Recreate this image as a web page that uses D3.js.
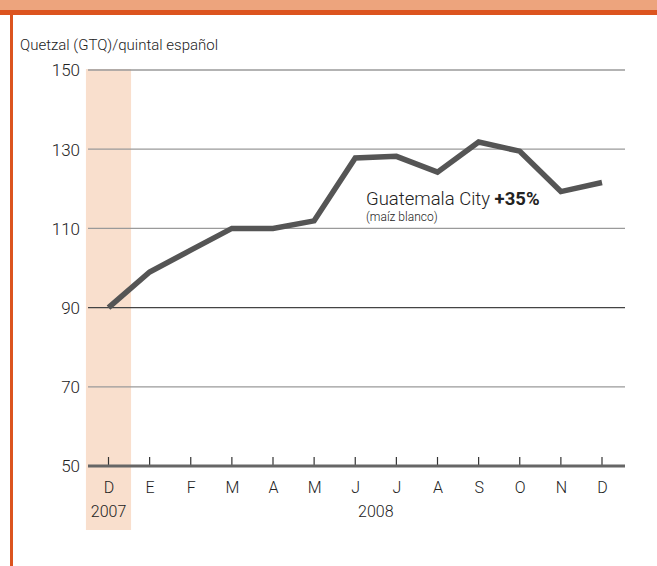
<!DOCTYPE html>
<html lang="es">
<head>
<meta charset="UTF-8">
<title>Guatemala City maíz blanco</title>
<style>
    body { margin: 0; background: #fff; }
    svg { display: block; font-family: Roboto, "Noto Sans", sans-serif; font-weight: 300; }
    .tick text { fill: #222; }
</style>
</head>
<body>
<svg id="chart" width="657" height="566"></svg>
<script src="https://cdnjs.cloudflare.com/ajax/libs/d3/7.8.5/d3.min.js"></script>
<script>
    // month labels (Dec 2007 .. Dec 2008)
    const months = ['D', 'E', 'F', 'M', 'A', 'M', 'J', 'J', 'A', 'S', 'O', 'N', 'D'];
    const prices = [90, 99, 104.5, 110, 110, 111.9, 127.8, 128.2, 124.2, 131.8, 129.5, 119.3, 121.6];
    const yTicks = [50, 70, 90, 110, 130, 150];
    const years = [{ label: '2007', from: 0, to: 0 }, { label: '2008', from: 1, to: 12 }];

    const svg = d3.select('#chart');
    const W = 657, H = 566;

    // frame: top band + left rule
    svg.append('rect').attr('x', 0).attr('y', 0).attr('width', W).attr('height', 11).attr('fill', '#eda47d');
    svg.append('rect').attr('x', 0).attr('y', 10).attr('width', W).attr('height', 5).attr('fill', '#dc541f');
    svg.append('rect').attr('x', 10).attr('y', 10).attr('width', 3).attr('height', H - 10).attr('fill', '#dc541f');

    svg.append('text')
        .attr('x', 20).attr('y', 50)
        .attr('font-size', 15).attr('fill', '#222')
        .text('Quetzal (GTQ)/quintal español');

    const left = 88, right = 625;
    const x = d3.scalePoint().domain(d3.range(months.length)).range([108.5, 602]);
    const y = d3.scaleLinear().domain([50, 150]).range([466, 70]);

    // highlighted Dec 2007 column
    const step = x.step();
    svg.append('rect')
        .attr('x', x(0) - step / 2 - 2).attr('y', y(150) - 1)
        .attr('width', step + 4).attr('height', 530 - y(150) + 1)
        .attr('fill', '#f9dfcd');

    // horizontal grid
    const yAxis = d3.axisLeft(y).tickValues(yTicks).tickSize(0).tickPadding(8);
    const gy = svg.append('g').attr('transform', `translate(${left},0)`).call(yAxis);
    gy.select('.domain').remove();
    gy.selectAll('text').attr('font-size', 17).attr('dy', '0.35em')
        .style('font-family', 'Roboto, sans-serif').style('font-weight', 300);

    svg.selectAll('line.grid')
        .data(yTicks.filter(d => d > 50))
        .join('line')
        .attr('class', 'grid')
        .attr('x1', left).attr('x2', right)
        .attr('y1', d => y(d)).attr('y2', d => y(d))
        .attr('stroke', d => d === 90 ? '#444' : '#9a9a9a')
        .attr('stroke-width', 1.3);

    // x axis
    const xAxis = d3.axisBottom(x).tickSize(0).tickPadding(16).tickFormat(i => months[i]);
    const gx = svg.append('g').attr('transform', `translate(0,${y(50)})`).call(xAxis);
    gx.select('.domain').remove();
    gx.selectAll('text').attr('font-size', 16)
        .style('font-family', 'Roboto, sans-serif').style('font-weight', 300);

    svg.selectAll('line.tk')
        .data(months.map((m, i) => i))
        .join('line')
        .attr('class', 'tk')
        .attr('x1', d => x(d)).attr('x2', d => x(d))
        .attr('y1', y(50)).attr('y2', y(50) - 9)
        .attr('stroke', '#333').attr('stroke-width', 1.2);

    svg.append('line')
        .attr('x1', left).attr('x2', right)
        .attr('y1', y(50)).attr('y2', y(50))
        .attr('stroke', '#666').attr('stroke-width', 3);

    svg.selectAll('text.year')
        .data(years)
        .join('text')
        .attr('class', 'year')
        .attr('x', d => (x(d.from) + x(d.to)) / 2)
        .attr('y', 517)
        .attr('text-anchor', 'middle')
        .attr('font-size', 16).attr('fill', '#222')
        .text(d => d.label);

    // price line
    const line = d3.line().x((d, i) => x(i)).y(d => y(d));
    svg.append('path')
        .datum(prices)
        .attr('d', line)
        .attr('fill', 'none')
        .attr('stroke', '#555')
        .attr('stroke-width', 5.5)
        .attr('stroke-linejoin', 'miter');

    // annotation
    const lab = svg.append('text').attr('x', 366).attr('y', 205).attr('font-size', 18.5).attr('fill', '#222');
    lab.append('tspan').text('Guatemala City ');
    lab.append('tspan').attr('font-weight', 'bold').text('+35%');
    svg.append('text')
        .attr('x', 366).attr('y', 221)
        .attr('font-size', 12).attr('fill', '#222')
        .text('(maíz blanco)');
</script>
</body>
</html>
